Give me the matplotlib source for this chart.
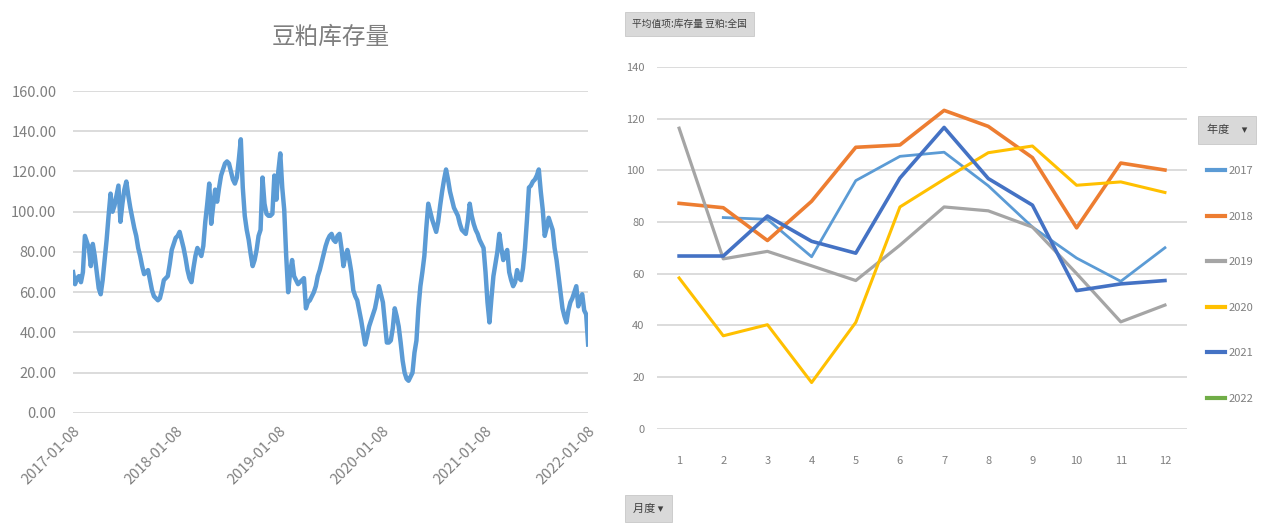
import matplotlib
matplotlib.use("Agg")
import matplotlib.pyplot as plt
import numpy as np
import pandas as pd

plt.rcParams['font.family'] = ['Noto Sans CJK SC', 'DejaVu Sans']

# weekly soybean meal inventory, starting 2017-01-08
start_date = "2017-01-08"
stock = [
    70, 64, 67, 68, 65, 70, 88, 85, 82, 73, 84, 78, 70, 62, 59, 66, 76, 86, 98, 109,
    100, 103, 108, 113, 95, 104, 111, 115, 108, 102, 97, 92, 88, 82, 78, 73, 69, 70, 71, 66,
    61, 58, 57, 56, 57, 61, 66, 67, 68, 74, 81, 84, 87, 88, 90, 86, 82, 77, 71, 67,
    65, 72, 78, 82, 80, 78, 83, 95, 104, 114, 94, 103, 111, 105, 112, 118, 121, 124, 125, 124,
    120, 116, 114, 117, 126, 136, 112, 98, 91, 86, 79, 73, 76, 81, 88, 91, 117, 104, 99, 98,
    98, 99, 118, 106, 120, 129, 112, 101, 78, 60, 70, 76, 68, 66, 64, 65, 66, 67, 52, 55,
    56, 58, 60, 63, 68, 71, 75, 79, 83, 86, 88, 89, 86, 85, 88, 89, 82, 73, 78, 81,
    76, 70, 61, 58, 56, 51, 46, 40, 34, 38, 43, 46, 49, 52, 57, 63, 59, 55, 45, 35,
    35, 36, 42, 52, 48, 43, 35, 26, 20, 17, 16, 18, 20, 30, 36, 52, 63, 70, 78, 92,
    104, 100, 96, 93, 90, 95, 103, 110, 116, 121, 116, 110, 106, 102, 100, 98, 94, 91, 90, 89,
    95, 104, 98, 94, 91, 89, 86, 84, 82, 70, 55, 45, 57, 68, 74, 80, 89, 82, 76, 79,
    81, 70, 66, 63, 65, 71, 67, 66, 72, 82, 96, 112, 113, 115, 116, 118, 121, 110, 101, 88,
    92, 97, 94, 91, 82, 76, 68, 60, 52, 48, 45, 51, 55, 57, 60, 63, 53, 57, 59, 51,
    49, 34,
]
date_ticks = ["2017-01-08", "2018-01-08", "2019-01-08", "2020-01-08", "2021-01-08", "2022-01-08"]

# monthly averages by year
months = list(range(1, 13))
years = ["2017", "2018", "2019", "2020", "2021", "2022"]
y2017 = [None, 81.7, 81.0, 66.5, 96.0, 105.4, 107.0, 94.0, 78.0, 66.0, 57.0, 70.0]
y2018 = [87.2, 85.5, 72.8, 88.0, 108.9, 109.8, 123.2, 117.0, 104.9, 77.7, 102.8, 100.1]
y2019 = [116.3, 65.7, 68.6, 63.0, 57.3, 71.0, 85.8, 84.3, 78.0, 60.0, 41.3, 47.8]
y2020 = [58.3, 35.9, 40.2, 17.8, 41.1, 85.8, 96.5, 106.8, 109.4, 94.2, 95.5, 91.4]
y2021 = [66.8, 66.8, 82.3, 72.5, 67.9, 97.0, 116.6, 96.8, 86.5, 53.4, 56.0, 57.3]
y2022 = [34.0, None, None, None, None, None, None, None, None, None, None, None]
series = [y2017, y2018, y2019, y2020, y2021, y2022]
colors = ["#5B9BD5", "#ED7D31", "#A5A5A5", "#FFC000", "#4472C4", "#70AD47"]
widths = [2.0, 2.6, 2.3, 2.2, 2.6, 2.4]

grid_c = "#D9D9D9"
text_c = "#7F7F7F"

fig = plt.figure(figsize=(12.64, 5.30), dpi=100)

# left: weekly inventory line
ax1 = fig.add_axes([0.0578, 0.2208, 0.4075, 0.6075])
dates = pd.date_range(start_date, periods=len(stock), freq="7D")
ax1.plot(dates, stock, color="#5B9BD5", lw=3.2, solid_joinstyle="round")
ax1.set_ylim(0, 160)
ax1.set_xlim(dates[0], dates[-1])
ax1.set_yticks(np.arange(0, 161, 20))
ax1.set_yticklabels([f"{v:.2f}" for v in np.arange(0, 161, 20)], fontsize=10.5, color=text_c)
ax1.set_xticks(pd.to_datetime(date_ticks))
ax1.set_xticklabels(date_ticks, rotation=45, ha="right", va="top",
                    rotation_mode="anchor", fontsize=10.5, color=text_c)
ax1.grid(axis="y", color=grid_c, lw=1.3)
ax1.set_axisbelow(True)
ax1.tick_params(axis="y", length=0, pad=12)
ax1.tick_params(axis="x", length=0, pad=8)
for s in ax1.spines.values():
    s.set_visible(False)
ax1.set_title("豆粕库存量", fontsize=17, color=text_c, pad=34)

# right: monthly average by year
ax2 = fig.add_axes([0.5198, 0.1915, 0.4193, 0.6821])
for ys, c, w, lab in zip(series, colors, widths, years):
    vals = [np.nan if v is None else v for v in ys]
    ax2.plot(months, vals, color=c, lw=w, label=lab)
ax2.set_xlim(0.5, 12.5)
ax2.set_ylim(0, 140)
ax2.set_yticks(np.arange(0, 141, 20))
ax2.set_xticks(months)
ax2.tick_params(length=0, labelsize=8, labelcolor=text_c)
ax2.tick_params(axis="x", pad=20)
ax2.tick_params(axis="y", pad=9)
ax2.grid(axis="y", color=grid_c, lw=1.3)
ax2.set_axisbelow(True)
for s in ax2.spines.values():
    s.set_visible(False)

leg = ax2.legend(loc="upper left", bbox_to_anchor=(0.951, 0.695), bbox_transform=fig.transFigure,
                 frameon=False, fontsize=8, labelspacing=3.2, handlelength=1.7,
                 handletextpad=0.3, borderaxespad=0)
for t in leg.get_texts():
    t.set_color(text_c)
for h in leg.get_lines():
    h.set_linewidth(3)

# pivot field buttons
fig.text(0.5, 0.955, "平均值项:库存量 豆粕:全国", fontsize=7, color="#404040",
         va="center", ha="left",
         bbox=dict(boxstyle="square,pad=0.75", fc="#D9D9D9", ec="#C8C8C8", lw=0.6))
fig.text(0.955, 0.755, "年度     ▾", fontsize=8, color="#404040",
         va="center", ha="left",
         bbox=dict(boxstyle="square,pad=0.8", fc="#D9D9D9", ec="#C8C8C8", lw=0.6))
fig.text(0.501, 0.04, "月度 ▾", fontsize=8, color="#404040",
         va="center", ha="left",
         bbox=dict(boxstyle="square,pad=0.75", fc="#D9D9D9", ec="#C8C8C8", lw=0.6))

fig.savefig("out.png", dpi=100, facecolor="white")
